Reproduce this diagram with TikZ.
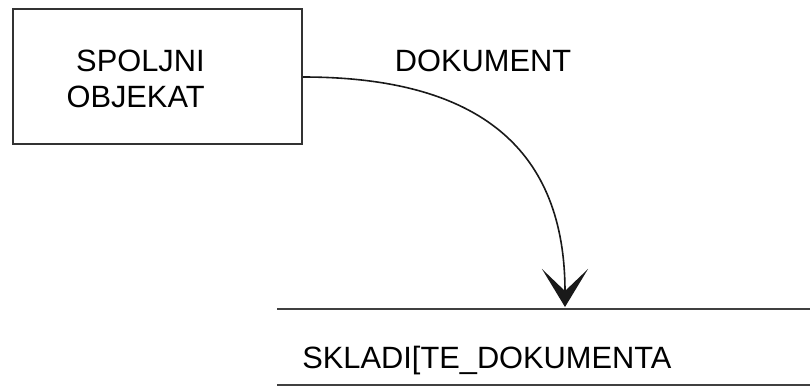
\documentclass[tikz,border=0pt]{standalone}
\usepackage{fontspec}
\setmainfont{Liberation Sans}
\usetikzlibrary{arrows.meta}

\tikzset{
  entity/.style={draw=black!80, line width=1pt, minimum width=144.5pt, minimum height=67.5pt},
  label/.style={font=\fontsize{15.4}{18}\selectfont, inner sep=0pt},
  flow/.style={draw=black!90, line width=0.8pt, -{Stealth[length=19pt, width=23pt, inset=11pt]}},
  storeline/.style={draw=black!75, line width=1.2pt}
}

\begin{document}
\begin{tikzpicture}[x=0.5pt, y=-0.5pt]
\useasboundingbox (0,0) rectangle (810,387);

%Declare nodes.
\node[entity] (obj) at (157.5,76.5) {};
\node[label, align=right, anchor=east] (objtxt) at (205,79) {SPOLJNI\\OBJEKAT};
\node[label, anchor=base west] (store) at (302,368) {SKLADI[TE\_DOKUMENTA};
\node[label] (doc) at (483,61) {DOKUMENT};

%Setup data store.
\coordinate (st1) at (277,309);
\coordinate (st2) at (810,309);
\coordinate (sb1) at (277,385);
\coordinate (sb2) at (810,385);
\coordinate (sin) at (565,307);
\draw[storeline] (st1) -- (st2);
\draw[storeline] (sb1) -- (sb2);

%Setup edges.
\draw[flow] (obj.east |- 0,77) .. controls (480,77) and (565,150) .. (sin);

\end{tikzpicture}
\end{document}
